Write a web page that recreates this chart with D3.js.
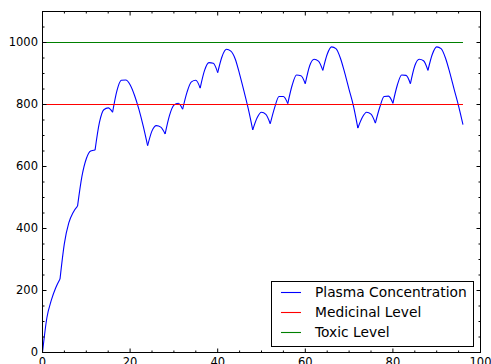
<!DOCTYPE html>
<html>
<head>
<meta charset="utf-8">
<script src="https://cdn.jsdelivr.net/npm/d3@7"></script>
<style>
  body { margin: 0; background: #fff; }
  svg { display: block; }
  text { font-family: "DejaVu Sans", sans-serif; fill: #000; }
</style>
</head>
<body>
<svg id="chart" width="491" height="364"></svg>
<script>
// Hours since the first dose
const hours = [
  0, 1, 2, 3, 4, 5, 6, 7, 8, 9, 10, 11, 12, 13, 14, 15, 16, 17, 18, 19,
  20, 21, 22, 23, 24, 25, 26, 27, 28, 29, 30, 31, 32, 33, 34, 35, 36, 37, 38, 39,
  40, 41, 42, 43, 44, 45, 46, 47, 48, 49, 50, 51, 52, 53, 54, 55, 56, 57, 58, 59,
  60, 61, 62, 63, 64, 65, 66, 67, 68, 69, 70, 71, 72, 73, 74, 75, 76, 77, 78, 79,
  80, 81, 82, 83, 84, 85, 86, 87, 88, 89, 90, 91, 92, 93, 94, 95, 96
];

// Plasma concentration at each hour
const plasma = [
  0, 112, 168, 208, 237, 352, 418, 452, 472, 568,
  625, 650, 653, 742, 783, 789, 775, 845, 878, 879,
  864, 830, 785, 730, 667, 715, 732, 727, 705, 765,
  798, 804, 785, 840, 873, 878, 853, 910, 935, 933,
  903, 955, 978, 972, 947, 898, 843, 785, 718, 757,
  775, 768, 738, 790, 826, 826, 803, 862, 895, 893,
  867, 925, 946, 940, 910, 962, 986, 980, 950, 902,
  848, 795, 724, 758, 775, 769, 740, 791, 826, 827,
  804, 862, 895, 894, 867, 925, 946, 941, 910, 962,
  986, 980, 950, 902, 848, 795, 735
];

// Hours at which a dose is taken (the curve turns sharply there)
const doseHours = [0, 4, 8, 12, 16, 24, 28, 32, 36, 40, 48, 52, 56, 60, 64, 72, 76, 80, 84, 88];

const medicinalLevel = 800;
const toxicLevel = 1000;
const levelHours = [0, 96];

const xMajorTicks = [0, 20, 40, 60, 80, 100];
const yMajorTicks = [0, 200, 400, 600, 800, 1000];

const legendLabels = ["Plasma Concentration", "Medicinal Level", "Toxic Level"];
const seriesColors = ["#0000ff", "#ff0000", "#008000"];

const svg = d3.select("#chart");
const plotLeft = 42.5, plotRight = 480.5, plotTop = 11.5, plotBottom = 352.5;

const x = d3.scaleLinear().domain([0, 100]).range([plotLeft, plotRight]);
const y = d3.scaleLinear().domain([0, 1100]).range([plotBottom, plotTop]);

const xMinor = d3.range(0, 101, 5).filter(v => v % 20 !== 0);
const yMinor = d3.range(0, 1101, 50).filter(v => v % 200 !== 0);

// Data lines
const plot = svg.append("g");
const points = hours.map((h, i) => ({ h, v: plasma[i] }));
const stops = doseHours.concat([hours[hours.length - 1]]);
const segLine = d3.line().x(d => x(d.h)).y(d => y(d.v)).curve(d3.curveMonotoneX);
for (let i = 0; i < stops.length - 1; i++) {
  const seg = points.filter(p => p.h >= stops[i] && p.h <= stops[i + 1]);
  plot.append("path")
    .attr("d", segLine(seg))
    .attr("fill", "none")
    .attr("stroke", seriesColors[0])
    .attr("stroke-width", 1.1)
    .attr("stroke-linejoin", "round");
}

const flatLine = d3.line().x(d => x(d[0])).y(d => y(d[1]));
[medicinalLevel, toxicLevel].forEach((lvl, i) => {
  plot.append("path")
    .attr("d", flatLine(levelHours.map(h => [h, lvl])))
    .attr("fill", "none")
    .attr("stroke", seriesColors[i + 1])
    .attr("stroke-width", 1.1);
});

// Axes: ticks point inward on all four sides
function styleAxis(g) {
  g.select(".domain").remove();
  g.selectAll("line").attr("stroke", "#000");
  g.selectAll("text").attr("font-size", 11.5).attr("font-family", "DejaVu Sans, sans-serif").attr("fill", "#000");
}

svg.append("g").attr("transform", `translate(0,${plotBottom})`)
  .call(d3.axisBottom(x).tickValues(xMajorTicks).tickSize(-4).tickPadding(5).offset(0).tickFormat(d3.format("d")))
  .call(styleAxis);
svg.append("g").attr("transform", `translate(0,${plotBottom})`)
  .call(d3.axisBottom(x).tickValues(xMinor).tickSize(-2).tickFormat("").offset(0))
  .call(styleAxis);
svg.append("g").attr("transform", `translate(0,${plotTop})`)
  .call(d3.axisTop(x).tickValues(xMajorTicks).tickSize(-4).tickFormat("").offset(0))
  .call(styleAxis);
svg.append("g").attr("transform", `translate(0,${plotTop})`)
  .call(d3.axisTop(x).tickValues(xMinor).tickSize(-2).tickFormat("").offset(0))
  .call(styleAxis);

svg.append("g").attr("transform", `translate(${plotLeft},0)`)
  .call(d3.axisLeft(y).tickValues(yMajorTicks).tickSize(-4).tickPadding(4.5).offset(0).tickFormat(d3.format("d")))
  .call(styleAxis);
svg.append("g").attr("transform", `translate(${plotLeft},0)`)
  .call(d3.axisLeft(y).tickValues(yMinor).tickSize(-2).tickFormat("").offset(0))
  .call(styleAxis);
svg.append("g").attr("transform", `translate(${plotRight},0)`)
  .call(d3.axisRight(y).tickValues(yMajorTicks).tickSize(-4).tickFormat("").offset(0))
  .call(styleAxis);
svg.append("g").attr("transform", `translate(${plotRight},0)`)
  .call(d3.axisRight(y).tickValues(yMinor).tickSize(-2).tickFormat("").offset(0))
  .call(styleAxis);

// Frame
svg.append("rect")
  .attr("x", plotLeft).attr("y", plotTop)
  .attr("width", plotRight - plotLeft).attr("height", plotBottom - plotTop)
  .attr("fill", "none").attr("stroke", "#000").attr("stroke-width", 1);

// Legend
const legend = svg.append("g");
legend.append("rect")
  .attr("x", 271.5).attr("y", 281.5).attr("width", 202).attr("height", 65)
  .attr("fill", "#fff").attr("stroke", "#000").attr("stroke-width", 1);
legendLabels.forEach((label, i) => {
  const ly = 292.5 + i * 20;
  legend.append("line")
    .attr("x1", 281).attr("x2", 301).attr("y1", ly).attr("y2", ly)
    .attr("stroke", seriesColors[i]).attr("stroke-width", 1.1);
  legend.append("text")
    .attr("x", 315).attr("y", ly).attr("dy", "0.36em")
    .attr("font-size", 13.8)
    .text(label);
});
</script>
</body>
</html>
